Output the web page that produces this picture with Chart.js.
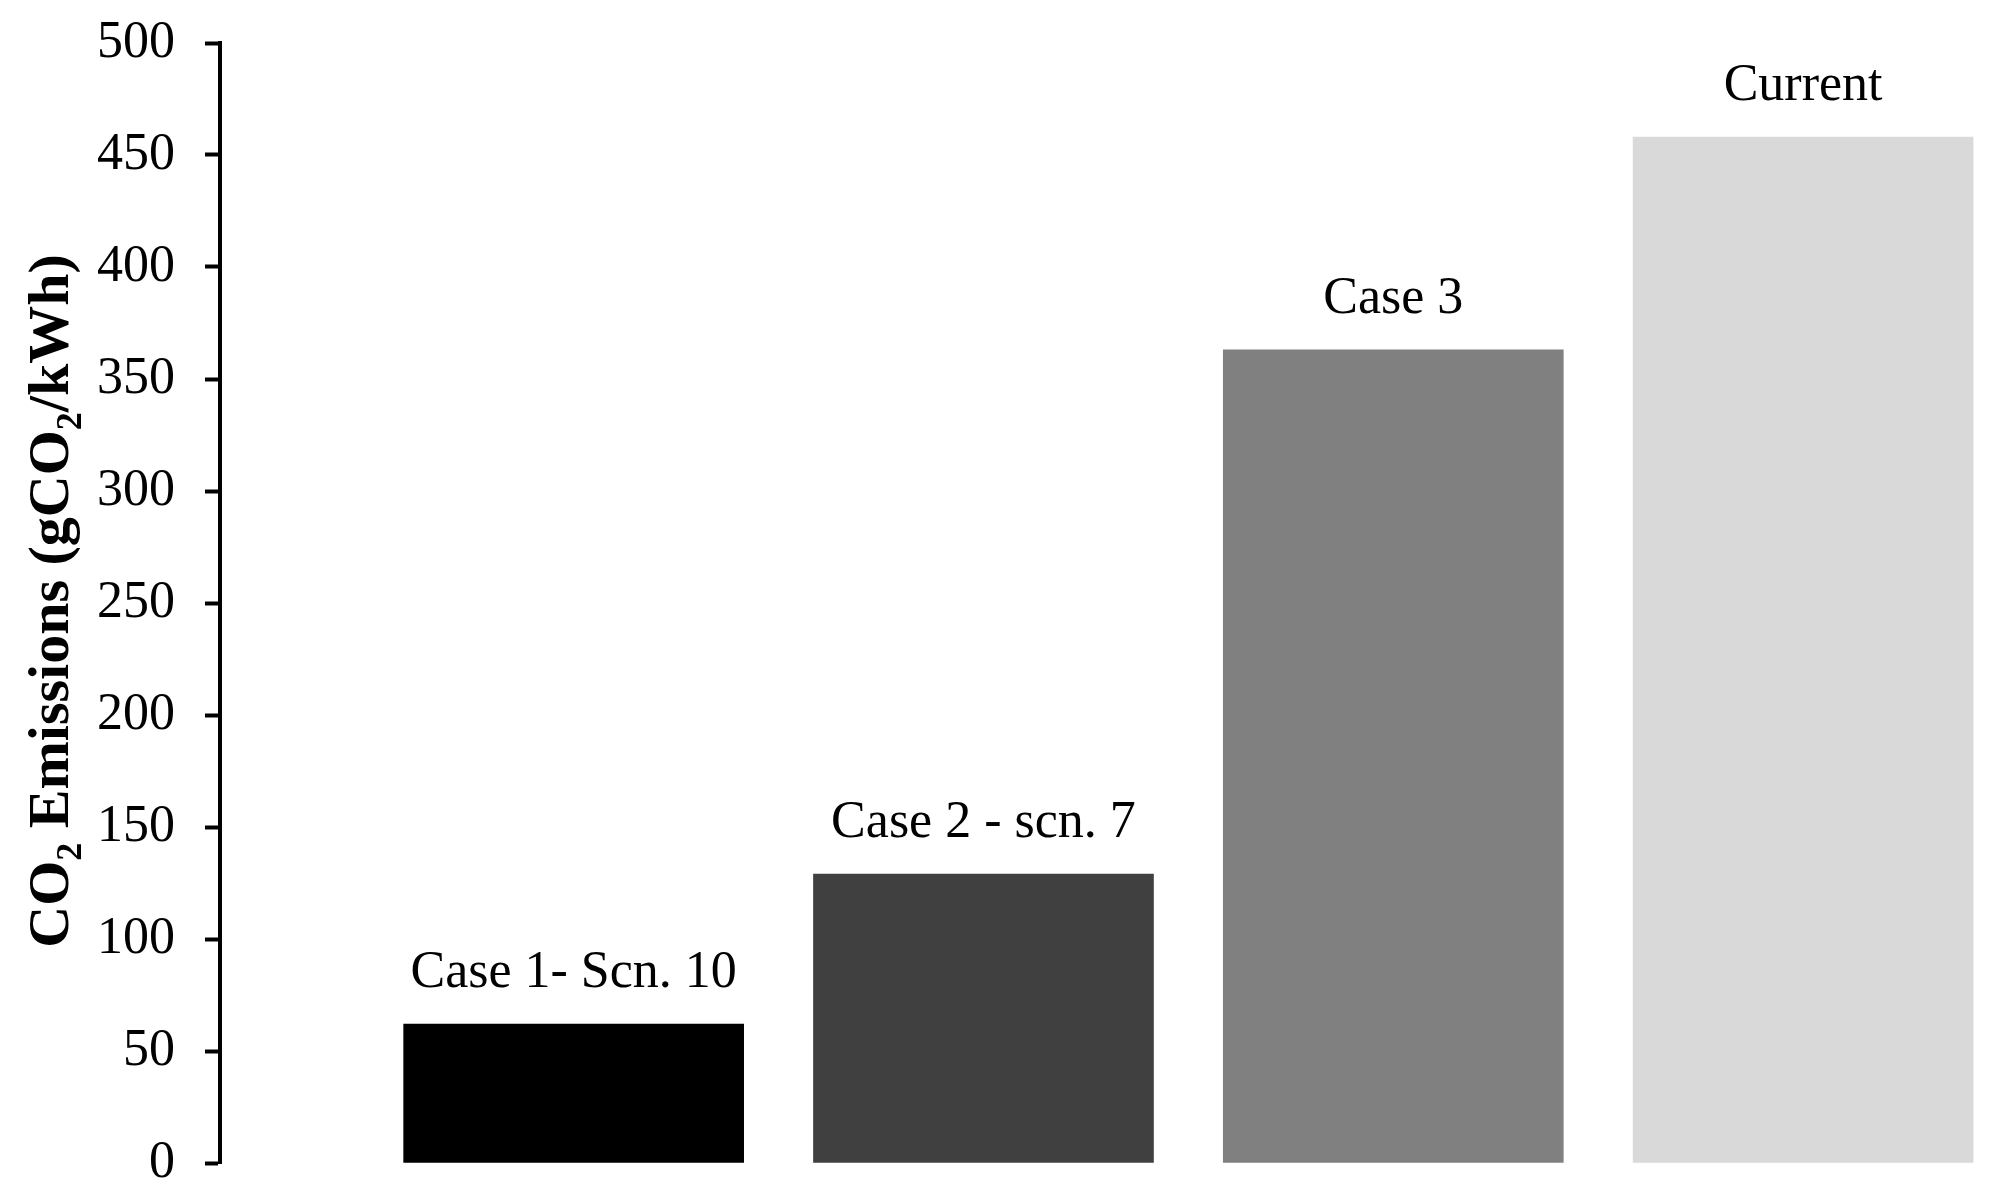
<!DOCTYPE html>
<html>
<head>
<meta charset="utf-8">
<script src="https://cdn.jsdelivr.net/npm/chart.js@4/dist/chart.umd.min.js"></script>
<style>
  html, body { margin: 0; padding: 0; background: #fff; }
  #wrap { width: 2009px; height: 1200px; }
</style>
</head>
<body>
<div id="wrap"><canvas id="bar_chart_co2"></canvas></div>
<script>
// data
var categories = ['Case 1- Scn. 10', 'Case 2 - scn. 7', 'Case 3', 'Current'];
var emissions = [62, 129, 363, 458];
var barColors = ['#000000', '#404040', '#808080', '#d9d9d9'];
var yTicks = [0, 50, 100, 150, 200, 250, 300, 350, 400, 450, 500];

var serif = "'Liberation Serif', 'Times New Roman', serif";

// labels above each bar
var barLabels = {
    id: 'barLabels',
    afterDatasetsDraw: function (chart) {
        var ctx = chart.ctx;
        var meta = chart.getDatasetMeta(0);
        ctx.save();
        ctx.font = '52px ' + serif;
        ctx.fillStyle = '#000';
        ctx.textAlign = 'center';
        ctx.textBaseline = 'alphabetic';
        meta.data.forEach(function (bar, i) {
            ctx.fillText(categories[i], bar.x, bar.y - 37);
        });
        ctx.restore();
    }
};

// rotated y title with subscripts
var yTitle = {
    id: 'yTitle',
    afterDraw: function (chart) {
        var ctx = chart.ctx;
        var parts = [['CO', 0], ['2', 1], [' Emissions (gCO', 0], ['2', 1], ['/kWh)', 0]];
        var big = 'bold 58px ' + serif, small = 'bold 36px ' + serif;
        var total = 0;
        ctx.save();
        parts.forEach(function (p) {
            ctx.font = p[1] ? small : big;
            total += ctx.measureText(p[0]).width;
        });
        ctx.translate(68, 601);
        ctx.rotate(-Math.PI / 2);
        ctx.fillStyle = '#000';
        ctx.textAlign = 'left';
        ctx.textBaseline = 'alphabetic';
        var x = -total / 2;
        parts.forEach(function (p) {
            ctx.font = p[1] ? small : big;
            ctx.fillText(p[0], x, p[1] ? 13 : 0);
            x += ctx.measureText(p[0]).width;
        });
        ctx.restore();
    }
};

new Chart(document.getElementById('bar_chart_co2').getContext('2d'), {
    type: 'bar',
    data: {
        labels: categories,
        datasets: [{
            label: 'CO2 Emissions',
            data: emissions.map(function (v, i) { return {x: i, y: v}; }),
            backgroundColor: barColors,
            borderWidth: 0,
            barThickness: 340
        }]
    },
    options: {
        responsive: true,
        maintainAspectRatio: false,
        animation: false,
        layout: { padding: { left: 0, right: 1, top: 43, bottom: 37 } },
        plugins: {
            legend: { display: false },
            tooltip: { enabled: false }
        },
        scales: {
            x: {
                type: 'linear',
                display: false,
                offset: false,
                min: -0.863,
                max: 3.5
            },
            y: {
                min: 0,
                max: 500,
                afterFit: function (scale) {
                    scale.width = 220;
                    // tick padding would otherwise shrink the plot vertically
                    scale.paddingTop = 0;
                    scale.paddingBottom = 0;
                },
                afterBuildTicks: function (scale) {
                    scale.ticks = yTicks.map(function (v) { return {value: v}; });
                },
                border: { display: true, color: '#000', width: 4 },
                grid: {
                    drawOnChartArea: false,
                    drawTicks: true,
                    tickLength: 15,
                    tickWidth: 4,
                    tickColor: '#000'
                },
                ticks: {
                    color: '#000',
                    padding: 30,
                    font: { family: serif, size: 52 }
                }
            }
        }
    },
    plugins: [barLabels, yTitle]
});
</script>
</body>
</html>
